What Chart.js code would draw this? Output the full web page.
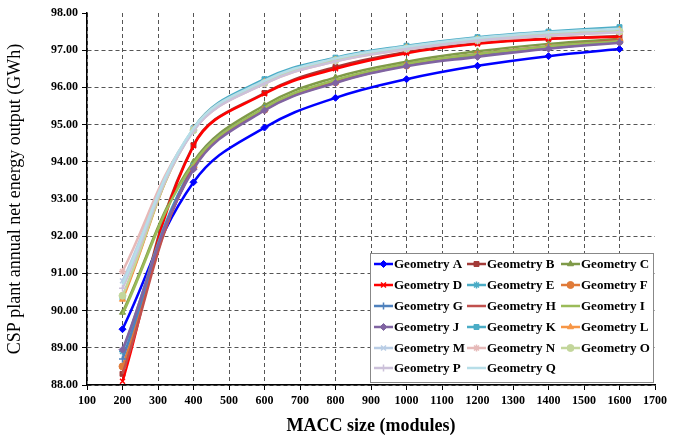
<!DOCTYPE html>
<html>
<head>
<meta charset="utf-8">
<script src="https://cdn.jsdelivr.net/npm/chart.js@4.4.1/dist/chart.umd.min.js"></script>
<style>
  html, body { margin: 0; padding: 0; background: #fff; }
  #wrap { width: 686px; height: 441px; }
</style>
</head>
<body>
<div id="wrap"><canvas id="macc-chart" width="686" height="441"></canvas></div>
<script>
    // MACC sizes (modules)
    var maccSizes = [200, 400, 600, 800, 1000, 1200, 1400, 1600];

    var geoA = [89.50, 93.45, 94.92, 95.72, 96.22, 96.58, 96.84, 97.03];
    var geoB = [88.30, 94.45, 95.85, 96.55, 96.95, 97.19, 97.31, 97.38];
    var geoC = [89.95, 94.00, 95.52, 96.27, 96.69, 96.97, 97.17, 97.30];
    var geoD = [88.10, 94.43, 95.83, 96.50, 96.92, 97.17, 97.30, 97.36];
    var geoE = [88.90, 93.90, 95.42, 96.15, 96.60, 96.86, 97.06, 97.22];
    var geoF = [88.50, 93.85, 95.40, 96.14, 96.59, 96.88, 97.08, 97.24];
    var geoG = [88.70, 93.90, 95.43, 96.16, 96.61, 96.88, 97.08, 97.23];
    var geoH = [88.30, 93.88, 95.42, 96.17, 96.62, 96.90, 97.10, 97.27];
    var geoI = [89.90, 93.95, 95.45, 96.20, 96.63, 96.90, 97.10, 97.25];
    var geoJ = [88.95, 93.80, 95.38, 96.12, 96.57, 96.82, 97.04, 97.20];
    var geoK = [90.35, 94.90, 96.22, 96.80, 97.12, 97.35, 97.50, 97.62];
    var geoL = [90.30, 94.88, 96.15, 96.75, 97.08, 97.30, 97.45, 97.55];
    var geoM = [90.80, 94.88, 96.12, 96.72, 97.05, 97.28, 97.42, 97.52];
    var geoN = [91.05, 94.85, 96.10, 96.70, 97.02, 97.25, 97.38, 97.48];
    var geoO = [90.40, 94.85, 96.12, 96.73, 97.05, 97.28, 97.42, 97.50];
    var geoP = [90.60, 94.83, 96.10, 96.70, 97.03, 97.26, 97.40, 97.48];
    var geoQ = [90.70, 94.90, 96.18, 96.78, 97.10, 97.33, 97.48, 97.58];

    var seriesNames = ['Geometry A', 'Geometry B', 'Geometry C', 'Geometry D', 'Geometry E', 'Geometry F',
        'Geometry G', 'Geometry H', 'Geometry I', 'Geometry J', 'Geometry K', 'Geometry L',
        'Geometry M', 'Geometry N', 'Geometry O', 'Geometry P', 'Geometry Q'];
    var seriesValues = [geoA, geoB, geoC, geoD, geoE, geoF, geoG, geoH, geoI, geoJ, geoK, geoL, geoM, geoN, geoO, geoP, geoQ];

    var xTicks = { min: 100, max: 1700, step: 100 };
    var yTicks = { min: 88, max: 98, step: 1 };

    // excel-like palette + markers
    var colors = ['#0000FF', '#A33B38', '#7F9A48', '#FF0000', '#4BACC6', '#E07B39',
        '#4F81BD', '#C0504D', '#9BBB59', '#8064A2', '#4BACC6', '#F79646',
        '#B9CDE5', '#E6B9B8', '#C3D69B', '#CCC1DA', '#B7DEE8'];
    var markers = ['rectRot', 'rect', 'triangle', 'crossRot', 'star', 'circle',
        'cross', false, false, 'rectRot', 'rect', 'triangle',
        'crossRot', 'star', 'circle', 'cross', false];

    var serif = "'Liberation Serif', 'Times New Roman', serif";

    var datasets = [];
    for (var i = 0; i < seriesNames.length; i++) {
        var pts = [];
        for (var j = 0; j < maccSizes.length; j++) {
            pts.push({ x: maccSizes[j], y: seriesValues[i][j] });
        }
        datasets.push({
            label: seriesNames[i],
            data: pts,
            borderColor: colors[i],
            backgroundColor: colors[i],
            borderWidth: 2.5,
            tension: 0.4,
            pointStyle: markers[i] || 'circle',
            pointRadius: markers[i] ? 3.5 : 0,
            pointBorderWidth: markers[i] === 'cross' || markers[i] === 'crossRot' || markers[i] === 'star' ? 1.5 : 1
        });
    }
    // draw A last so the blue line sits on top like in excel
    datasets.forEach(function (d, k) { d.order = 17 - k; });

    // in-plot legend, 3 columns
    var boxLegend = {
        id: 'boxLegend',
        afterDraw: function (chart) {
            var ctx = chart.ctx;
            var bx = 370, by = 253, bw = 283, bh = 129;
            var colX = [374, 467, 561];
            var rowY = [264, 285, 306, 327, 348, 368];
            ctx.save();
            ctx.fillStyle = '#fff';
            ctx.fillRect(bx, by, bw, bh);
            ctx.strokeStyle = '#888';
            ctx.lineWidth = 1;
            ctx.strokeRect(bx + 0.5, by + 0.5, bw, bh);
            ctx.font = 'bold 13px ' + serif;
            ctx.textBaseline = 'middle';
            for (var k = 0; k < datasets.length; k++) {
                var d = datasets[k];
                var x0 = colX[k % 3], y0 = rowY[Math.floor(k / 3)];
                ctx.strokeStyle = d.borderColor;
                ctx.lineWidth = 2.5;
                ctx.beginPath();
                ctx.moveTo(x0, y0);
                ctx.lineTo(x0 + 19, y0);
                ctx.stroke();
                if (d.pointRadius > 0) {
                    ctx.fillStyle = d.backgroundColor;
                    ctx.strokeStyle = d.borderColor;
                    ctx.lineWidth = d.pointBorderWidth;
                    Chart.helpers.drawPoint(ctx, { pointStyle: d.pointStyle, radius: 3.5, rotation: 0, borderWidth: d.pointBorderWidth }, x0 + 9.5, y0);
                }
                ctx.fillStyle = '#000';
                ctx.fillText(d.label, x0 + 20, y0 + 1);
            }
            ctx.restore();
        }
    };

    // no grid line on the far edges (98.00 / 1700), only the tick
    function gridCol(max) {
        return function (c) {
            return c.tick && c.tick.value === max ? 'rgba(0,0,0,0)' : '#555';
        };
    }

    var ctx = document.getElementById('macc-chart').getContext('2d');
    window.maccChart = new Chart(ctx, {
        type: 'line',
        data: { datasets: datasets },
        plugins: [boxLegend],
        options: {
            responsive: false,
            animation: false,
            layout: { padding: { left: 0, right: 31, top: 13, bottom: 0 } },
            plugins: {
                legend: { display: false },
                tooltip: { enabled: false }
            },
            scales: {
                x: {
                    type: 'linear',
                    min: xTicks.min,
                    max: xTicks.max,
                    afterFit: function (s) { s.height = 56; },
                    ticks: {
                        stepSize: xTicks.step,
                        color: '#000',
                        font: { family: serif, size: 12, weight: 'bold' },
                        maxRotation: 0,
                        padding: 4,
                        callback: function (v) { return String(v); }
                    },
                    grid: {
                        color: gridCol(xTicks.max),
                        tickColor: '#000',
                        tickLength: 5,
                        lineWidth: 1
                    },
                    border: { color: '#000', width: 1.5, dash: [4, 3] },
                    title: {
                        display: true,
                        text: 'MACC size (modules)',
                        color: '#000',
                        font: { family: serif, size: 18, weight: 'bold' },
                        padding: { top: 6 }
                    }
                },
                y: {
                    min: yTicks.min,
                    max: yTicks.max,
                    afterFit: function (s) { s.width = 87; },
                    ticks: {
                        stepSize: yTicks.step,
                        color: '#000',
                        font: { family: serif, size: 12, weight: 'bold' },
                        padding: 4,
                        callback: function (v) { return v.toFixed(2); }
                    },
                    grid: {
                        color: gridCol(yTicks.max),
                        tickColor: '#000',
                        tickLength: 5
                    },
                    border: { color: '#000', width: 1.5, dash: [4, 3] },
                    title: {
                        display: true,
                        text: 'CSP plant annual net energy output (GWh)',
                        color: '#000',
                        font: { family: serif, size: 18 },
                        padding: { bottom: 4 }
                    }
                }
            }
        }
    });
</script>
</body>
</html>
